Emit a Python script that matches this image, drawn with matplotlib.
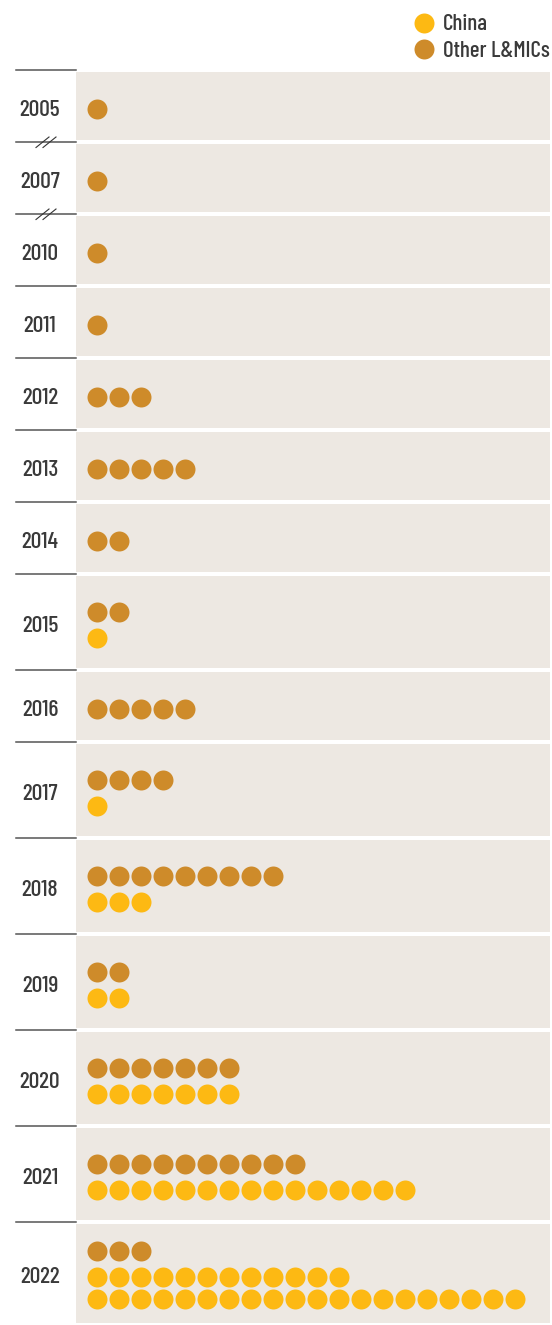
import matplotlib.pyplot as plt
import numpy as np

# projects per year, split by borrower group
years = ['2005', '2007', '2010', '2011', '2012', '2013', '2014', '2015',
         '2016', '2017', '2018', '2019', '2020', '2021', '2022']
other = [1, 1, 1, 1, 3, 5, 2, 2, 5, 4, 9, 2, 7, 10, 3]
china = [0, 0, 0, 0, 0, 0, 0, 1, 0, 1, 3, 2, 7, 15, 32]
gaps_after = ['2005', '2007']   # years followed by a break in the axis

c_other = '#CE8B2A'
c_china = '#FDB913'
c_panel = '#EDE8E2'
c_text = '#3A3A3A'

W, H = 552, 1325
per_row = 20
dx = 22          # dot pitch
dot_s = 207      # ~20 px at 100 dpi

plt.rcParams['font.family'] = ['Barlow Condensed', 'DejaVu Sans']
plt.rcParams['font.weight'] = 'medium'

fig = plt.figure(figsize=(W / 100, H / 100), dpi=100)
ax = fig.add_axes([0, 0, 1, 1])
ax.set_xlim(0, W)
ax.set_ylim(H, 0)
ax.axis('off')


def split_rows(n):
    # fill rows of 20, partial row goes on top
    if n == 0:
        return []
    k = int(np.ceil(n / per_row))
    return [n - per_row * (k - 1)] + [per_row] * (k - 1)


y0 = 70
x_dot0 = 97
for yr, no, nc in zip(years, other, china):
    rows = [(c_other, r) for r in split_rows(no)] + [(c_china, r) for r in split_rows(nc)]
    h = 48 + 24 * len(rows)
    h = min(h, H - y0)

    # relative y of each dot row
    offs = [0.0]
    for i in range(1, len(rows)):
        step = 22 if rows[i][0] == rows[i - 1][0] else 26
        offs.append(offs[-1] + step)
    offs = np.array(offs)
    ymid = y0 + h / 2
    ys = ymid + 2.5 - offs.mean() + offs

    ax.add_patch(plt.Rectangle((76, y0 + 1.5), W - 76 - 2, h - 4,
                               facecolor=c_panel, edgecolor='none', zorder=1))
    ax.plot([16, 76], [y0, y0], color='#555555', lw=1.1, zorder=2)
    ax.text(40, ymid + 1.2 + 8.3, yr, ha='center', va='baseline', fontsize=17, color=c_text)

    for (col, n), y in zip(rows, ys):
        xs = x_dot0 + dx * np.arange(n)
        ax.scatter(xs, np.full(n, y), s=dot_s, color=col, lw=0, zorder=3)

    if yr in gaps_after:
        yb = y0 + h
        for x1 in (36, 43):
            ax.plot([x1, x1 + 13], [yb + 5.5, yb - 5], color='#333333', lw=0.8, zorder=4)
    y0 += h

# legend
ax.scatter([423.5], [22.5], s=207, color=c_china, lw=0)
ax.scatter([423.5], [48.5], s=207, color=c_other, lw=0)
ax.text(443, 29.5, 'China', ha='left', va='baseline', fontsize=16.5, color=c_text)
ax.text(443, 57.3, 'Other L&MICs', ha='left', va='baseline', fontsize=16.5, color=c_text)

fig.savefig('out.png', dpi=100)
